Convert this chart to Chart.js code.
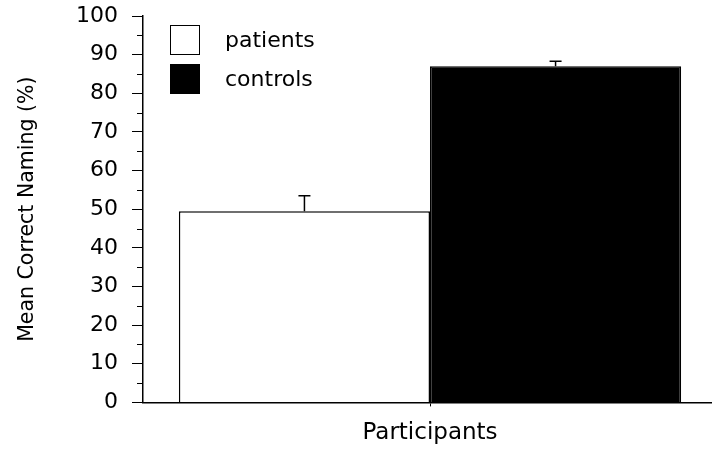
<!DOCTYPE html>
<html>
<head>
<meta charset="utf-8">
<script src="https://cdn.jsdelivr.net/npm/chart.js@4"></script>
<style>
  html, body { margin: 0; padding: 0; background: #fff; overflow: hidden; }
  #wrap { position: relative; width: 717px; height: 455px; }
  #legend { position: absolute; left: 170px; top: 20px; font-family: "DejaVu Sans", sans-serif; font-size: 22px; color: #000; }
  .row { display: flex; align-items: center; height: 39px; }
  .box { width: 28px; height: 28px; border: 1.5px solid #000; margin-right: 25px; }
</style>
</head>
<body>
<div id="wrap">
  <canvas id="grafico" width="717" height="455"></canvas>
  <div id="legend"></div>
</div>
<script>
// dados
const categorias = ['Participants'];
const grupos = ['patients', 'controls'];
const medias = [49.5, 87];
const erros = [4, 1.3];
const coresGrupo = ['#ffffff', '#000000'];
const yTicks = [0, 10, 20, 30, 40, 50, 60, 70, 80, 90, 100];
const yMinor = [5, 15, 25, 35, 45, 55, 65, 75, 85, 95];

const fonte = '"DejaVu Sans", sans-serif';

// legenda em html a partir dos datasets
const legenda = document.getElementById('legend');
grupos.forEach((g, i) => {
    const row = document.createElement('div');
    row.className = 'row';
    const box = document.createElement('div');
    box.className = 'box';
    box.style.background = coresGrupo[i];
    const txt = document.createElement('span');
    txt.textContent = g;
    row.appendChild(box);
    row.appendChild(txt);
    legenda.appendChild(row);
});

// barras de erro (so para cima)
const barrasErro = {
    id: 'barrasErro',
    afterDatasetsDraw(chart) {
        const ctx = chart.ctx;
        const y = chart.scales.y;
        ctx.save();
        ctx.strokeStyle = '#000';
        ctx.lineWidth = 1.5;
        chart.data.datasets.forEach((ds, i) => {
            const bar = chart.getDatasetMeta(i).data[0];
            const topo = y.getPixelForValue(ds.data[0] + erros[i]);
            ctx.beginPath();
            ctx.moveTo(bar.x, bar.y);
            ctx.lineTo(bar.x, topo);
            ctx.moveTo(bar.x - 6, topo);
            ctx.lineTo(bar.x + 6, topo);
            ctx.stroke();
        });
        ctx.restore();
    }
};

// marcas menores do eixo y
const marcasMenores = {
    id: 'marcasMenores',
    afterDraw(chart) {
        const ctx = chart.ctx;
        const y = chart.scales.y;
        ctx.save();
        ctx.strokeStyle = '#000';
        ctx.lineWidth = 1;
        yMinor.forEach(v => {
            const py = Math.round(y.getPixelForValue(v)) + 0.5;
            ctx.beginPath();
            ctx.moveTo(y.right - 6, py);
            ctx.lineTo(y.right, py);
            ctx.stroke();
        });
        ctx.restore();
    }
};

const ctx = document.getElementById('grafico').getContext('2d');
const grafico = new Chart(ctx, {
    type: 'bar',
    data: {
        labels: categorias,
        datasets: grupos.map((g, i) => ({
            label: g,
            data: [medias[i]],
            backgroundColor: coresGrupo[i],
            borderColor: '#000',
            borderWidth: 1.5,
            categoryPercentage: 0.875,
            barPercentage: 1.0
        }))
    },
    options: {
        responsive: false,
        animation: false,
        layout: { padding: { top: 16, right: 0, bottom: 0, left: 0 } },
        plugins: {
            legend: { display: false },
            tooltip: { enabled: false }
        },
        scales: {
            x: {
                grid: { display: true, drawOnChartArea: false, offset: false, tickLength: 4, color: '#000' },
                border: { color: '#000', width: 1.5 },
                ticks: { display: false },
                title: {
                    display: true,
                    text: 'Participants',
                    color: '#000',
                    font: { family: fonte, size: 23 },
                    padding: { top: 13, bottom: 8 }
                }
            },
            y: {
                min: 0,
                max: 100,
                afterBuildTicks: (scale) => { scale.ticks = yTicks.map(v => ({ value: v })); },
                afterFit: (scale) => {
                    scale.width = 143;
                    scale.paddingTop = 0;
                    scale.paddingBottom = 0;
                },
                grid: { display: true, drawOnChartArea: false, tickLength: 11, color: '#000' },
                border: { color: '#000', width: 1.5 },
                ticks: {
                    color: '#000',
                    padding: 14,
                    font: { family: fonte, size: 22 }
                },
                title: {
                    display: true,
                    text: 'Mean Correct Naming (%)',
                    color: '#000',
                    font: { family: fonte, size: 20.5 },
                    padding: { top: 15, bottom: 0 }
                }
            }
        }
    },
    plugins: [barrasErro, marcasMenores]
});
</script>
</body>
</html>
